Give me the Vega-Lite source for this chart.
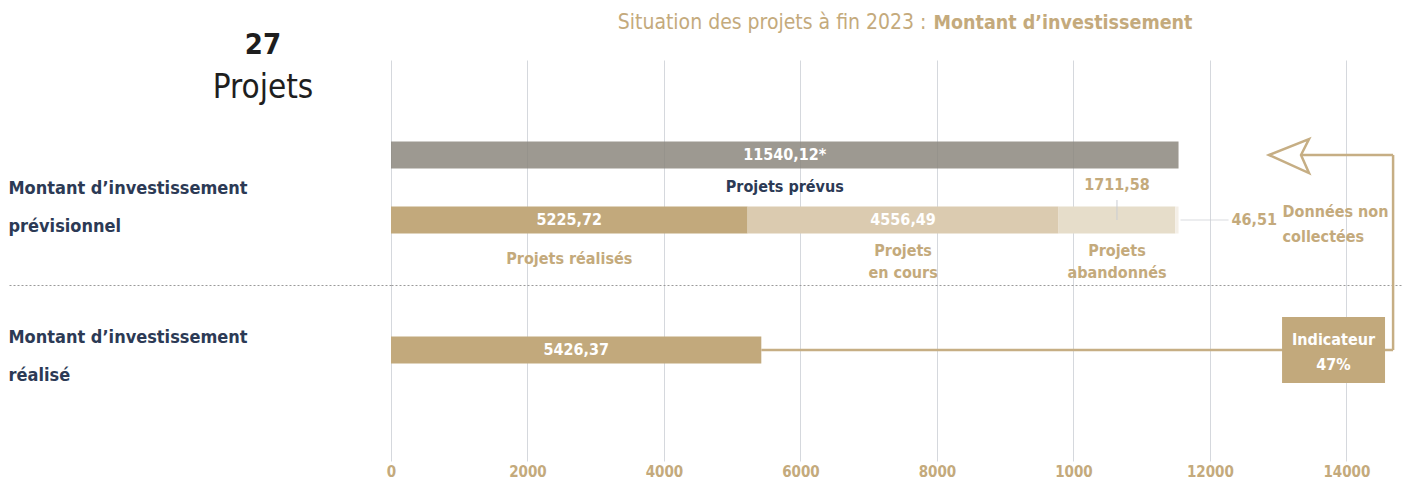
{
  "$schema": "https://vega.github.io/schema/vega-lite/v6.json",
  "autosize": {"type": "none"},
  "width": 1010,
  "height": 401,
  "padding": {"left": 391, "top": 60, "right": 2, "bottom": 20},
  "background": "white",
  "config": {
    "font": "DejaVu Sans Condensed, Liberation Sans Narrow, sans-serif",
    "view": {"stroke": null},
    "text": {"lineBreak": "|"}
  },
  "title": {
    "text": "27",
    "subtitle": "Projets",
    "anchor": "start",
    "frame": "group",
    "align": "center",
    "dx": -128,
    "dy": 98,
    "fontSize": 29,
    "fontWeight": "bold",
    "color": "#1e1e1e",
    "subtitleFontSize": 33,
    "subtitleColor": "#1e1e1e",
    "subtitleFont": "DejaVu Sans Condensed, Liberation Sans Narrow, sans-serif",
    "subtitlePadding": 12
  },
  "data": {
    "values": [
      {"lane": "Total prévu", "seg": "Projets prévus", "ord": 1, "value": 11540.12, "label": "11540,12*", "cat": "Projets prévus"},
      {"lane": "Montant d’investissement prévisionnel", "seg": "Projets réalisés", "ord": 1, "value": 5225.72, "label": "5225,72", "cat": "Projets réalisés"},
      {"lane": "Montant d’investissement prévisionnel", "seg": "Projets en cours", "ord": 2, "value": 4556.49, "label": "4556,49", "cat": "Projets|en cours"},
      {"lane": "Montant d’investissement prévisionnel", "seg": "Projets abandonnés", "ord": 3, "value": 1711.58, "label": "1711,58", "cat": "Projets|abandonnés"},
      {"lane": "Montant d’investissement prévisionnel", "seg": "Données non collectées", "ord": 4, "value": 46.51, "label": "46,51", "cat": "Données non|collectées"},
      {"lane": "Montant d’investissement réalisé", "seg": "Réalisé", "ord": 1, "value": 5426.37, "label": "5426,37", "cat": ""}
    ]
  },
  "transform": [
    {"stack": "value", "groupby": ["lane"], "sort": [{"field": "ord"}], "as": ["x0", "x1"]},
    {"calculate": "(datum.x0 + datum.x1) / 2", "as": "mid"}
  ],
  "layer": [
    {
      "mark": {"type": "bar", "size": 27},
      "encoding": {
        "x": {
          "field": "x0", "type": "quantitative",
          "scale": {"domain": [0, 14800], "nice": false, "zero": true},
          "axis": {
            "values": [0, 2000, 4000, 6000, 8000, 10000, 12000, 14000],
            "format": "d",
            "labelExpr": "datum.value == 10000 ? '1000' : datum.label",
            "domain": false, "ticks": false, "labelFlush": false,
            "labelPadding": 3, "labelFontSize": 15, "labelFontWeight": "bold", "labelColor": "#c4aa7c",
            "grid": true, "gridColor": "#d5d8dd", "gridWidth": 1,
            "title": "Montant d’investissement",
            "titleX": 542, "titleY": -433, "titleAlign": "left", "titleBaseline": "alphabetic",
            "titleFontSize": 19.5, "titleFontWeight": "bold", "titleColor": "#c4aa7c"
          }
        },
        "x2": {"field": "x1"},
        "y": {
          "field": "lane", "type": "nominal",
          "scale": {
            "type": "point",
            "domain": ["haut", "Total prévu", "Montant d’investissement prévisionnel", "séparation", "Montant d’investissement réalisé", "bas"],
            "padding": 0.585,
            "align": 0.395
          },
          "axis": {
            "title": "Situation des projets à fin 2023 :",
            "titleAngle": 0, "titleX": 535, "titleY": -32, "titleAlign": "right", "titleBaseline": "alphabetic",
            "titleFontSize": 21, "titleFontWeight": "normal", "titleColor": "#c4aa7c",
            "labelExpr": "datum.value == 'Montant d’investissement prévisionnel' ? ['Montant d’investissement', 'prévisionnel'] : datum.value == 'Montant d’investissement réalisé' ? ['Montant d’investissement', 'réalisé'] : ''",
            "labelAlign": "left", "labelPadding": 0, "labelFontSize": 18, "labelFontWeight": "bold",
            "labelColor": "#2c3a55", "labelLineHeight": 38, "labelLimit": 500,
            "labelOffset": {"condition": {"test": "datum.value == 'Montant d’investissement prévisionnel'", "value": -32}, "value": -13},
            "ticks": true, "tickSize": 383, "tickDash": [2, 2], "tickColor": "#9a9a9a", "tickWidth": 1,
            "tickOpacity": {"condition": {"test": "datum.value == 'séparation'", "value": 1}, "value": 0},
            "grid": true, "gridDash": [2, 2], "gridColor": "#9a9a9a",
            "gridOpacity": {"condition": {"test": "datum.value == 'séparation'", "value": 1}, "value": 0},
            "domain": false
          }
        },
        "color": {
          "field": "seg", "type": "nominal", "legend": null,
          "scale": {
            "domain": ["Projets prévus", "Projets réalisés", "Projets en cours", "Projets abandonnés", "Données non collectées", "Réalisé"],
            "range": ["rgba(138,133,124,0.84)", "#c2a97c", "#dbcbb0", "#e6ddca", "#f4efe7", "#c2a97c"]
          }
        }
      }
    },
    {
      "transform": [{"filter": {"field": "seg", "oneOf": ["Projets prévus", "Projets réalisés", "Projets en cours", "Réalisé"]}}],
      "mark": {"type": "text", "color": "white", "fontSize": 16, "fontWeight": "bold", "baseline": "middle", "align": "center"},
      "encoding": {
        "x": {"field": "mid", "type": "quantitative"},
        "y": {"field": "lane", "type": "nominal"},
        "text": {"field": "label"}
      }
    },
    {
      "transform": [{"filter": {"field": "seg", "equal": "Projets abandonnés"}}],
      "mark": {"type": "text", "color": "#c4aa7c", "fontSize": 16, "fontWeight": "bold", "baseline": "middle", "align": "center", "dy": -35},
      "encoding": {
        "x": {"field": "mid", "type": "quantitative"},
        "y": {"field": "lane", "type": "nominal"},
        "text": {"field": "label"}
      }
    },
    {
      "transform": [{"filter": {"field": "seg", "equal": "Projets abandonnés"}}],
      "mark": {"type": "rule", "color": "#c9ccd2", "strokeWidth": 1, "yOffset": -20},
      "encoding": {
        "x": {"field": "mid", "type": "quantitative"},
        "y": {"field": "lane", "type": "nominal"},
        "y2": {"field": "lane"},
        "y2Offset": {"value": -7}
      }
    },
    {
      "transform": [{"filter": {"field": "seg", "equal": "Projets réalisés"}}],
      "mark": {"type": "text", "color": "#c4aa7c", "fontSize": 16, "fontWeight": "bold", "baseline": "middle", "align": "center", "dy": 39},
      "encoding": {
        "x": {"field": "mid", "type": "quantitative"},
        "y": {"field": "lane", "type": "nominal"},
        "text": {"field": "cat"}
      }
    },
    {
      "transform": [{"filter": {"field": "seg", "oneOf": ["Projets en cours", "Projets abandonnés"]}}],
      "mark": {"type": "text", "color": "#c4aa7c", "fontSize": 16, "fontWeight": "bold", "baseline": "middle", "align": "center", "dy": 31, "lineHeight": 22},
      "encoding": {
        "x": {"field": "mid", "type": "quantitative"},
        "y": {"field": "lane", "type": "nominal"},
        "text": {"field": "cat"}
      }
    },
    {
      "transform": [{"filter": {"field": "seg", "equal": "Projets prévus"}}],
      "mark": {"type": "text", "color": "#2c3a55", "fontSize": 16, "fontWeight": "bold", "baseline": "middle", "align": "center", "dy": 32},
      "encoding": {
        "x": {"field": "mid", "type": "quantitative"},
        "y": {"field": "lane", "type": "nominal"},
        "text": {"field": "cat"}
      }
    },
    {
      "transform": [{"filter": {"field": "seg", "equal": "Données non collectées"}}],
      "mark": {"type": "tick", "orient": "horizontal", "size": 48, "thickness": 1, "color": "#c9ccd2", "xOffset": 26},
      "encoding": {
        "x": {"field": "x1", "type": "quantitative"},
        "y": {"field": "lane", "type": "nominal"}
      }
    },
    {
      "transform": [{"filter": {"field": "seg", "equal": "Données non collectées"}}],
      "mark": {"type": "text", "color": "#c4aa7c", "fontSize": 16, "fontWeight": "bold", "baseline": "middle", "align": "left", "dx": 53},
      "encoding": {
        "x": {"field": "x1", "type": "quantitative"},
        "y": {"field": "lane", "type": "nominal"},
        "text": {"field": "label"}
      }
    },
    {
      "transform": [{"filter": {"field": "seg", "equal": "Données non collectées"}}],
      "mark": {"type": "text", "color": "#c4aa7c", "fontSize": 16, "fontWeight": "bold", "baseline": "middle", "align": "left", "dx": 104, "dy": -8, "lineHeight": 25},
      "encoding": {
        "x": {"field": "x1", "type": "quantitative"},
        "y": {"field": "lane", "type": "nominal"},
        "text": {"field": "cat"}
      }
    },
    {
      "transform": [{"filter": {"field": "seg", "equal": "Réalisé"}}],
      "mark": {"type": "rule", "color": "#c6ae84", "strokeWidth": 2.5},
      "encoding": {
        "x": {"field": "x1", "type": "quantitative"},
        "x2": {"datum": 14684},
        "y": {"field": "lane", "type": "nominal"}
      }
    },
    {
      "data": {"values": [{"indicateur": "Indicateur|47%"}]},
      "layer": [
        {
          "mark": {"type": "rule", "color": "#c6ae84", "strokeWidth": 2.5},
          "encoding": {
            "x": {"datum": 14684},
            "y": {"datum": "Total prévu"},
            "y2": {"datum": "Montant d’investissement réalisé"}
          }
        },
        {
          "mark": {"type": "rule", "color": "#c6ae84", "strokeWidth": 2.5},
          "encoding": {
            "x": {"datum": 13335},
            "x2": {"datum": 14684},
            "y": {"datum": "Total prévu"}
          }
        },
        {
          "mark": {"type": "point", "shape": "M -1 0 L 1 -0.8 L 0.6 0 L 1 0.9 Z", "size": 1600, "filled": false, "fill": "white", "stroke": "#c6ae84", "strokeWidth": 2.5, "opacity": 1, "strokeJoin": "miter"},
          "encoding": {
            "x": {"datum": 13159},
            "y": {"datum": "Total prévu"}
          }
        },
        {
          "mark": {"type": "bar", "size": 66, "color": "#c2a97c"},
          "encoding": {
            "x": {"datum": 13057},
            "x2": {"datum": 14566},
            "y": {"datum": "Montant d’investissement réalisé"}
          }
        },
        {
          "mark": {"type": "text", "color": "white", "fontSize": 16, "fontWeight": "bold", "baseline": "middle", "align": "center", "lineHeight": 25, "dy": -10},
          "encoding": {
            "x": {"datum": 13811},
            "y": {"datum": "Montant d’investissement réalisé"},
            "text": {"field": "indicateur"}
          }
        }
      ]
    }
  ]
}
